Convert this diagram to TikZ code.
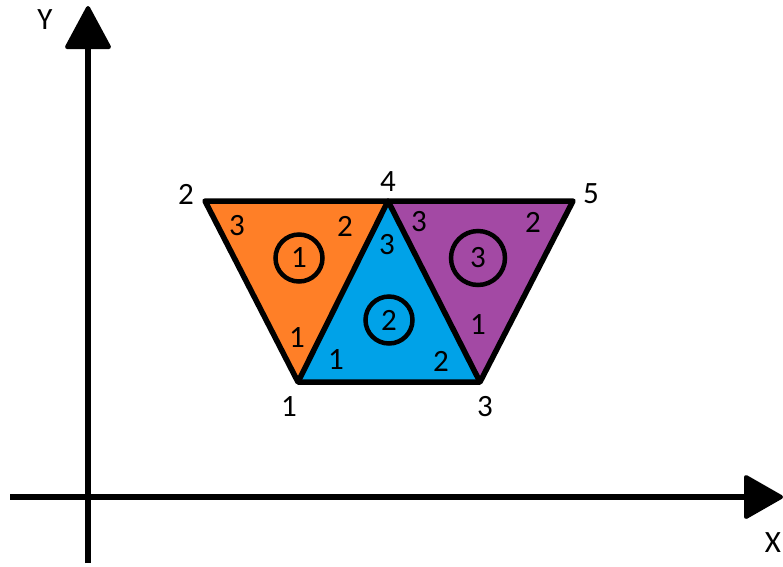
\documentclass[tikz,border=0pt]{standalone}
\usepackage{fontspec}
\setmainfont{Carlito}
\definecolor{porange}{HTML}{FF7F27}
\definecolor{pblue}{HTML}{00A2E8}
\definecolor{ppurple}{HTML}{A349A4}
\begin{document}
\begin{tikzpicture}[x=1pt,y=-1pt,
  edge/.style={line width=5.5pt,line join=round},
  axis/.style={line width=5.5pt},
  tip/.style={fill=black,draw=black,line width=4pt,line join=round},
  num/.style={font=\fontsize{31}{31}\selectfont,inner sep=0pt},
  ring/.style={circle,draw=black,line width=4.5pt,inner sep=0pt,font=\fontsize{31}{31}\selectfont}]
\useasboundingbox (0,0) rectangle (783,566);
% axes
\coordinate (yb) at (88,563);
\coordinate (yt) at (88,46);
\coordinate (xl) at (10,497);
\coordinate (xr) at (747,497);
\draw[axis] (yb) -- (yt);
\draw[axis] (xl) -- (xr);
\draw[tip] (88,8) -- (67,47) -- (109,47) -- cycle;
\draw[tip] (781,497) -- (746,477) -- (746,517) -- cycle;
\node[num] (ylab) at (45,20) {Y};
\node[num] (xlab) at (773,543) {X};
% vertices
\coordinate (v1) at (298,382);
\coordinate (v2) at (205,201);
\coordinate (v3) at (480,382);
\coordinate (v4) at (388,201);
\coordinate (v5) at (573,201);
\fill[porange] (v1) -- (v2) -- (v4) -- cycle;
\fill[pblue] (v1) -- (v3) -- (v4) -- cycle;
\fill[ppurple] (v3) -- (v4) -- (v5) -- cycle;
\draw[edge] (v1) -- (v2) -- (v5) -- (v3) -- cycle;
\draw[edge] (v1) -- (v4) -- (v3);
% global node labels
\node[num] (g2) at (186,194) {2};
\node[num] (g4) at (388,182) {4};
\node[num] (g5) at (591,194) {5};
\node[num] (g1) at (289,407) {1};
\node[num] (g3) at (485,407) {3};
% local labels
\node[num] (a3) at (237,226) {3};
\node[num] (a2) at (345,226) {2};
\node[num] (a1) at (297,338) {1};
\node[num] (b3) at (387,245) {3};
\node[num] (b1) at (336,360) {1};
\node[num] (b2) at (441,361) {2};
\node[num] (c3) at (419,222) {3};
\node[num] (c2) at (533,222) {2};
\node[num] (c1) at (478,325) {1};
% element circles
\node[ring,minimum size=47pt] (e1) at (299,258) {1};
\node[ring,minimum size=47pt] (e2) at (389,320) {2};
\node[ring,minimum size=54pt] (e3) at (478,258) {3};
\end{tikzpicture}
\end{document}
